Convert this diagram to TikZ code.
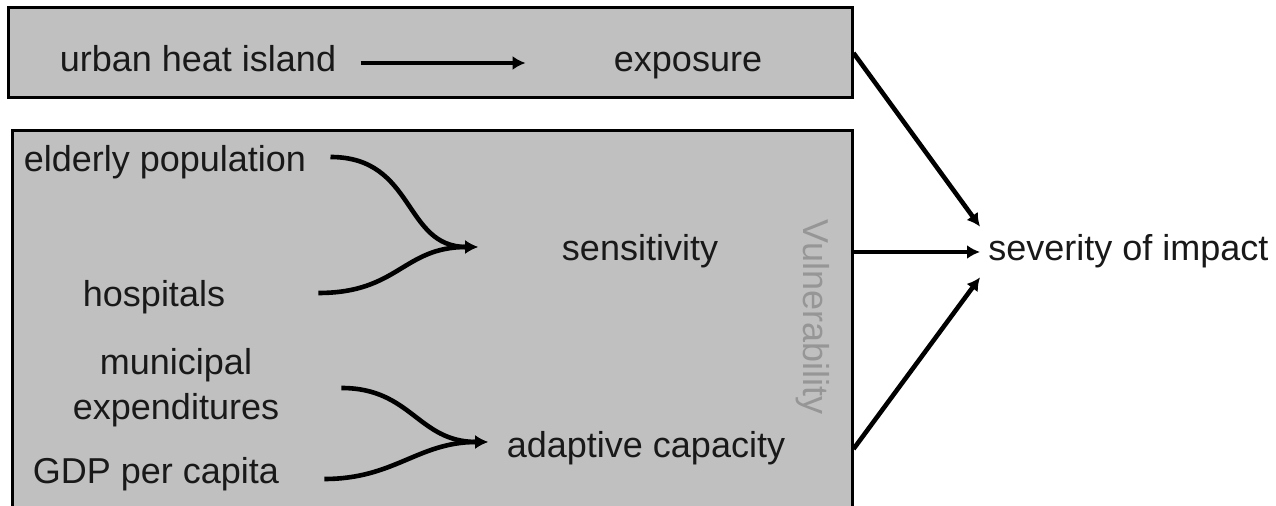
\documentclass[tikz,border=0pt]{standalone}
\usepackage{fontspec}
\setmainfont{Liberation Sans}
\usetikzlibrary{arrows.meta,positioning,calc}
\definecolor{panelgray}{RGB}{192,192,192}
\definecolor{labelgray}{RGB}{150,150,150}
\definecolor{textdark}{RGB}{25,25,25}

\begin{document}
\begin{tikzpicture}[
  x=0.5pt, y=-0.5pt,
  every node/.style={font=\fontsize{18}{22.5}\selectfont, text=textdark, inner sep=0pt},
  panel/.style={rectangle, draw=black, line width=1.5pt, fill=panelgray},
  term/.style={text height=13pt, text depth=4pt},
  arr/.style={-{Latex[length=6.5pt,width=7pt]}, line width=2.3pt, black}
]
  \useasboundingbox (0,0) rectangle (1276,506);
  \clip (0,0) rectangle (1276,506);
  % panels
  \node[panel, minimum width=422pt, minimum height=45pt] (expbox) at (430,53) {};
  \node[panel, minimum width=420pt, minimum height=214pt] (vulbox) at (432,345) {};
  % exposure row
  \node[term] (uhi) at (198,63) {urban heat island};
  \node[term] (expo) at (688,63) {exposure};
  % sensitivity
  \node[term] (eld) at (165,163) {elderly population};
  \node[term] (hosp) at (154,298) {hospitals};
  \node[term] (sens) at (640,252) {sensitivity};
  % adaptive capacity
  \node[align=center] (muni) at (176,388) {municipal\\expenditures};
  \node[term] (gdp) at (156,475) {GDP per capita};
  \node[term] (adap) at (646,449) {adaptive capacity};
  \node[rotate=-90, text=labelgray] (vul) at (813,317) {Vulnerability};
  \node[term, anchor=west, inner sep=4pt] (sev) at (980,252) {severity of impact};

  \coordinate (sensin) at (478,247);
  \coordinate (adapin) at (488,442);

  \draw[arr] ([xshift=12pt]uhi.east) -- ([xshift=-44pt]uhi.east -| expo.west);
  \draw[arr] ([shift={(24,-6)}]eld.east) .. controls +(85,0) and +(-75,0) .. (sensin);
  \draw[arr] ([shift={(93,-5)}]hosp.east) .. controls +(80,0) and +(-75,0) .. (sensin);
  \draw[arr] ([shift={(62,0)}]muni.east) .. controls +(70,0) and +(-70,0) .. (adapin);
  \draw[arr] ([shift={(45,4)}]gdp.east) .. controls +(70,0) and +(-70,0) .. (adapin);

  \draw[arr] (expbox.east) -- (sev.north west);
  \draw[arr] (sens -| vulbox.east) -- (sev.west);
  \draw[arr] (adap -| vulbox.east) -- (sev.south west);
\end{tikzpicture}
\end{document}
